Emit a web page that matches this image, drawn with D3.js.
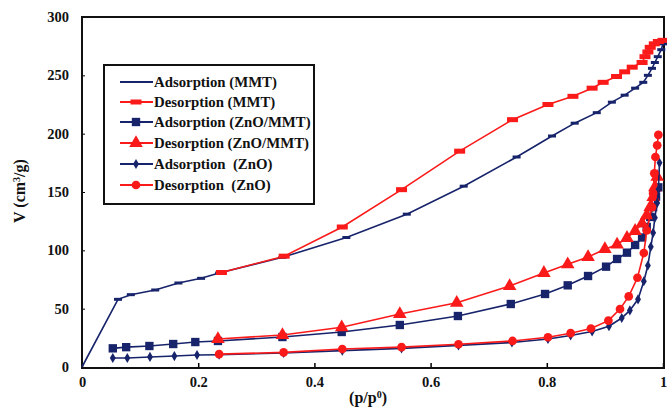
<!DOCTYPE html>
<html>
<head>
<meta charset="utf-8">
<script src="https://cdn.jsdelivr.net/npm/d3@7"></script>
<style>
  body { margin: 0; background: #fff; }
  svg text { font-family: "Liberation Serif", "Times New Roman", serif; font-weight: bold; white-space: pre; }
</style>
</head>
<body>
<script>
// isotherm data: [p/p0, V]
var adsMMT = [[0,0],[0.062,58],[0.084,62],[0.126,66],[0.166,72],[0.205,76],[0.236,80.5],[0.345,94],[0.455,111],
  [0.559,131],[0.657,155],[0.748,180],[0.809,198],[0.848,209],[0.886,218],[0.912,227],[0.934,233],[0.952,239],
  [0.966,244],[0.974,250],[0.981,256],[0.986,261],[0.991,266],[0.997,272],[1.0,277]];
var desMMT = [[0.24,81],[0.348,95],[0.448,120],[0.55,152],[0.65,185],[0.741,212],[0.802,225],[0.845,232],
  [0.878,239],[0.897,244],[0.92,249],[0.934,253],[0.947,257],[0.964,261],[0.969,266],[0.974,270],[0.978,274],
  [0.985,277],[0.992,279],[1.0,280]];
var adsZnOMMT = [[0.053,16],[0.076,17],[0.116,18],[0.157,19.7],[0.195,21.4],[0.234,22.3],[0.345,25.7],[0.447,30],
  [0.547,36],[0.647,43.7],[0.738,54],[0.797,62.6],[0.836,70],[0.871,78],[0.902,86],[0.921,92.6],[0.938,98],
  [0.952,104.6],[0.964,111],[0.972,120],[0.978,128.6],[0.983,137],[0.988,146],[0.992,154]];
var desZnOMMT = [[0.234,24],[0.345,27.4],[0.447,34],[0.547,45.4],[0.645,55],[0.736,69.4],[0.795,80.6],[0.836,88],
  [0.871,94.3],[0.9,101],[0.921,105],[0.938,110.6],[0.952,116.6],[0.964,123],[0.972,130],[0.978,137],
  [0.983,145.7],[0.986,154],[0.99,163]];
var adsZnO = [[0.053,7.7],[0.078,7.7],[0.117,8.6],[0.159,9.4],[0.198,10.3],[0.236,10.5],[0.347,12],[0.448,14],
  [0.55,16],[0.648,18.5],[0.74,21],[0.802,24],[0.841,27],[0.878,30.5],[0.907,35],[0.929,42],[0.943,48.5],
  [0.957,58],[0.967,73.5],[0.974,87],[0.979,103],[0.983,115],[0.986,128],[0.99,140.6],[0.992,152],[0.994,175]];
var desZnO = [[0.236,11],[0.347,12.5],[0.448,15.4],[0.55,17],[0.648,19.5],[0.741,22.3],[0.802,25.5],[0.841,29],
  [0.876,33],[0.906,39.7],[0.926,49.7],[0.941,60.5],[0.956,76.5],[0.967,97.7],[0.972,117],[0.981,137],
  [0.983,149],[0.985,166],[0.987,180],[0.99,190],[0.992,199]];

var legendNames = ["Adsorption (MMT)", "Desorption (MMT)", "Adsorption (ZnO/MMT)", "Desorption (ZnO/MMT)",
  "Adsorption  (ZnO)", "Desorption  (ZnO)"];
var xTicks = [0, 0.2, 0.4, 0.6, 0.8, 1];
var yTicks = [0, 50, 100, 150, 200, 250, 300];

var navy = "#17236b", red = "#fb1a1a";

var series = [
  {data: adsMMT, color: navy, mark: "dashS", skipFirst: true},
  {data: desMMT, color: red, mark: "dashL"},
  {data: adsZnOMMT, color: navy, mark: "square"},
  {data: desZnOMMT, color: red, mark: "triangle"},
  {data: adsZnO, color: navy, mark: "diamond"},
  {data: desZnO, color: red, mark: "circle"}
];

var svg = d3.select("body").append("svg").attr("width", 667).attr("height", 407);

var x = d3.scaleLinear().domain([0, 1]).range([82, 663]);
var y = d3.scaleLinear().domain([0, 300]).range([367, 17]);

// axes, ticks pointing inward
svg.append("g").attr("transform", "translate(0,367)")
  .call(d3.axisBottom(x).tickValues(xTicks).tickFormat(d3.format("")).tickSizeInner(-4).tickSizeOuter(0).tickPadding(10))
  .call(g => g.select(".domain").remove())
  .call(g => g.selectAll("line").attr("stroke", "#000").attr("stroke-width", 1.5))
  .call(g => g.selectAll("text").attr("font-size", 14.5).attr("fill", "#111"));

svg.append("g").attr("transform", "translate(82,0)")
  .call(d3.axisLeft(y).tickValues(yTicks).tickSizeInner(-3).tickSizeOuter(0).tickPadding(13))
  .call(g => g.select(".domain").remove())
  .call(g => g.selectAll("line").attr("stroke", "#000").attr("stroke-width", 1))
  .call(g => g.selectAll("text").attr("font-size", 14.5).attr("fill", "#111"));

// frame
svg.append("rect").attr("x", 82).attr("y", 17).attr("width", 582).attr("height", 351)
  .attr("fill", "none").attr("stroke", "#111").attr("stroke-width", 2);

var line = d3.line().x(d => x(d[0])).y(d => y(d[1]));

function drawMark(g, kind, color, px, py) {
  if (kind === "dashS") {
    g.append("rect").attr("x", px - 4).attr("y", py - 1.5).attr("width", 8).attr("height", 3).attr("fill", color);
  } else if (kind === "dashL") {
    g.append("rect").attr("x", px - 5.5).attr("y", py - 2.5).attr("width", 11).attr("height", 5).attr("fill", color);
  } else {
    var sym = {square: d3.symbolSquare, triangle: d3.symbolTriangle, diamond: d3.symbolDiamond, circle: d3.symbolCircle}[kind];
    var size = {square: 70, triangle: 80, diamond: 30, circle: 60}[kind];
    g.append("path").attr("d", d3.symbol(sym, size)())
      .attr("transform", "translate(" + px + "," + py + ")").attr("fill", color);
  }
}

series.forEach(function(s) {
  var g = svg.append("g");
  g.append("path").datum(s.data).attr("d", line)
    .attr("fill", "none").attr("stroke", s.color).attr("stroke-width", 1.6);
  s.data.forEach(function(d, i) {
    if (s.skipFirst && i === 0) return;
    drawMark(g, s.mark, s.color, x(d[0]), y(d[1]));
  });
});

// legend
var lg = svg.append("g");
lg.append("rect").attr("x", 104).attr("y", 65).attr("width", 210).attr("height", 139)
  .attr("fill", "#fff").attr("stroke", "#111").attr("stroke-width", 2);
var rowY = [82, 102, 122, 143, 164, 185];
series.forEach(function(s, i) {
  lg.append("line").attr("x1", 120).attr("x2", 153).attr("y1", rowY[i]).attr("y2", rowY[i])
    .attr("stroke", s.color).attr("stroke-width", 1.8);
  if (i > 0) drawMark(lg, s.mark, s.color, 136, rowY[i]);
  lg.append("text").attr("x", 154).attr("y", rowY[i] + 5).attr("font-size", 14.8).attr("fill", "#111")
    .text(legendNames[i]);
});

// axis titles
svg.append("text").attr("transform", "translate(25,191) rotate(-90)").attr("text-anchor", "middle")
  .attr("font-size", 16).attr("fill", "#111")
  .html('V (cm<tspan baseline-shift="super" font-size="10">3</tspan>/g)');
svg.append("text").attr("x", 368).attr("y", 403).attr("text-anchor", "middle")
  .attr("font-size", 16).attr("fill", "#111")
  .html('(p/p<tspan baseline-shift="super" font-size="10">0</tspan>)');
</script>
</body>
</html>
